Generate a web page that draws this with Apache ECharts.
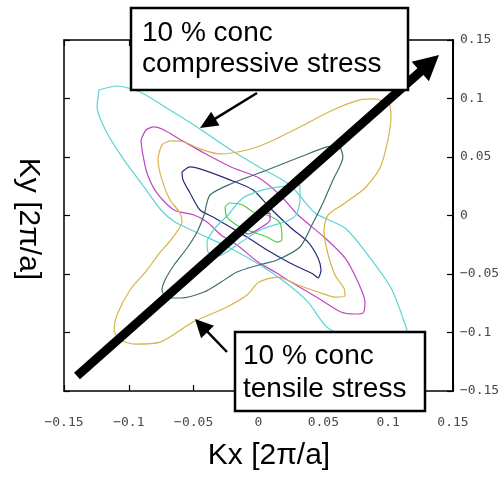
<!DOCTYPE html>
<html>
<head>
<meta charset="utf-8">
<script src="https://cdn.jsdelivr.net/npm/echarts@6/dist/echarts.min.js"></script>
<style>
  html, body { margin: 0; padding: 0; background: #fff; }
  #chart { width: 503px; height: 478px; }
</style>
</head>
<body>
<div id="chart"></div>
<script>
// constant-energy contours, [Kx, Ky] in units of 2pi/a
const cyanOuter = [
  [-0.123, 0.1073], [-0.1091, 0.1107], [-0.0914, 0.1056], [-0.0721, 0.0928], [-0.0474, 0.0757],
  [-0.0212, 0.056], [0.0004, 0.0415], [0.0243, 0.0261], [0.0436, 0.0021], [0.0667, -0.0107],
  [0.0844, -0.0338], [0.1022, -0.062], [0.1114, -0.0876], [0.1153, -0.1022], [0.1052, -0.1082],
  [0.0783, -0.1064], [0.0536, -0.0962], [0.0382, -0.074], [0.0204, -0.0569], [0.0012, -0.0423],
  [-0.022, -0.0278], [-0.0451, -0.0158], [-0.0644, -0.0056], [-0.0752, 0.0047], [-0.0883, 0.0244],
  [-0.1037, 0.0475], [-0.1168, 0.0705], [-0.1245, 0.0928]
];
const magentaOuter = [
  [-0.0906, 0.0646], [-0.0867, 0.0731], [-0.0806, 0.0757], [-0.0729, 0.0731], [-0.0598, 0.0646],
  [-0.042, 0.0534], [-0.0212, 0.0415], [0.0004, 0.0321], [0.0166, 0.0175], [0.0305, 0.0004],
  [0.0513, -0.0192], [0.0667, -0.0363], [0.0767, -0.0569], [0.0821, -0.074], [0.0806, -0.0834],
  [0.0744, -0.0842], [0.0636, -0.0825], [0.0459, -0.0705], [0.0251, -0.0569], [0.0127, -0.0483],
  [-0.0004, -0.0398], [-0.0166, -0.0252], [-0.0289, -0.0167], [-0.0397, -0.0056], [-0.0497, 0.0004],
  [-0.0651, 0.0047], [-0.0783, 0.0192], [-0.086, 0.0363], [-0.0898, 0.056]
];
const orangeStar = [
  [0.1014, 0.0945], [0.0898, 0.0996], [0.0783, 0.0988], [0.0574, 0.0902], [0.032, 0.0757],
  [0.0066, 0.062], [-0.0089, 0.056], [-0.0297, 0.0526], [-0.0451, 0.0569], [-0.0574, 0.0628],
  [-0.0675, 0.0637], [-0.0744, 0.0603], [-0.0775, 0.0475], [-0.0744, 0.0304], [-0.0682, 0.0133],
  [-0.0605, 0.0021], [-0.059, -0.0056], [-0.0659, -0.0184], [-0.0775, -0.0338], [-0.086, -0.0466],
  [-0.0991, -0.0637], [-0.1091, -0.0851], [-0.1114, -0.0979], [-0.1068, -0.1064], [-0.0952, -0.1099],
  [-0.0759, -0.1082], [-0.0505, -0.0911], [-0.0243, -0.0782], [-0.0089, -0.068], [0.0004, -0.0569],
  [0.015, -0.0526], [0.0305, -0.0594], [0.0459, -0.0654], [0.059, -0.0697], [0.0667, -0.0688],
  [0.0659, -0.062], [0.059, -0.0509], [0.0528, -0.0295], [0.0505, -0.0124], [0.0536, 0.0004],
  [0.0667, 0.0107], [0.0821, 0.0235], [0.0937, 0.0406], [0.0998, 0.0646], [0.1022, 0.0859]
];
const navyLoop = [
  [-0.059, 0.0372], [-0.0528, 0.0415], [-0.0451, 0.0398], [-0.022, 0.0304], [-0.0042, 0.0218],
  [0.0089, 0.0064], [0.0251, -0.0107], [0.0382, -0.0227], [0.0459, -0.0363], [0.0482, -0.0466],
  [0.0459, -0.0534], [0.042, -0.05], [0.0243, -0.0406], [0.0066, -0.0295], [-0.0089, -0.0184],
  [-0.022, -0.0098], [-0.0351, -0.0013], [-0.0451, 0.0047], [-0.0528, 0.0192], [-0.0582, 0.0304]
];
const tealLoop = [
  [0.0628, 0.0594], [0.0651, 0.05], [0.0574, 0.0304], [0.0497, 0.0107], [0.0412, -0.0081],
  [0.032, -0.0269], [0.0143, -0.038], [0.0004, -0.0423], [-0.0166, -0.0483], [-0.0289, -0.0569],
  [-0.042, -0.0654], [-0.0598, -0.0705], [-0.0705, -0.0705], [-0.0744, -0.0637], [-0.0721, -0.0551],
  [-0.0651, -0.0423], [-0.0551, -0.0278], [-0.0474, -0.0141], [-0.042, 0.0004], [-0.0374, 0.0175],
  [-0.0197, 0.0278], [0.0066, 0.0389], [0.032, 0.05], [0.0528, 0.0586]
];
const cyanInner = [
  [0.032, 0.0261], [0.032, 0.0133], [0.0289, 0.0004], [0.022, -0.0047], [0.0012, -0.0124],
  [-0.0166, -0.0252], [-0.0312, -0.0346], [-0.0389, -0.0312], [-0.0397, -0.0227], [-0.0335, -0.0107],
  [-0.0235, 0.0004], [-0.012, 0.015], [0.0066, 0.0227]
];
const greenLoop = [
  [-0.0258, 0.0073], [-0.022, 0.0107], [-0.012, 0.009], [-0.0042, 0.003], [0.0066, 0.0004],
  [0.0166, -0.0064], [0.0181, -0.0209], [0.0143, -0.0227], [0.0066, -0.0184], [-0.0042, -0.0141],
  [-0.0143, -0.0098], [-0.0243, -0.0013]
];
const magentaInner = [
  [-0.0127, -0.0124], [-0.0066, -0.0056], [0.0027, 0.0013], [0.0089, 0.0021], [0.0089, -0.0038],
  [0.0012, -0.0107], [-0.0081, -0.0158]
];

const tickLabels = ['\u22120.15', '\u22120.1', '\u22120.05', '0', '0.05', '0.1', '0.15'];

function closeLoop(pts) {
  return pts.concat([pts[0]]);
}

// arrow: shaft line + triangle head, tail -> tip
function arrow(tail, tip, width, headLen, headHalf) {
  const dx = tip[0] - tail[0], dy = tip[1] - tail[1];
  const len = Math.sqrt(dx * dx + dy * dy);
  const ux = dx / len, uy = dy / len;
  const bx = tip[0] - ux * headLen, by = tip[1] - uy * headLen;
  return [
    {
      type: 'line', z: 100,
      shape: { x1: tail[0], y1: tail[1], x2: bx + ux * 2, y2: by + uy * 2 },
      style: { stroke: '#000', lineWidth: width }
    },
    {
      type: 'polygon', z: 100,
      shape: { points: [tip, [bx - uy * headHalf, by + ux * headHalf], [bx + uy * headHalf, by - ux * headHalf]] },
      style: { fill: '#000' }
    }
  ];
}

function label(text, x, y, size) {
  return {
    type: 'text', z: 101,
    style: {
      text: text, x: x, y: y,
      font: size + 'px "Liberation Sans", Arial, sans-serif',
      fill: '#000', textAlign: 'left', textVerticalAlign: 'middle',
      align: 'left', verticalAlign: 'middle'
    }
  };
}

const chart = echarts.init(document.getElementById('chart'), null, { renderer: 'canvas' });

const axisCommon = {
  type: 'value',
  min: -0.15,
  max: 0.15,
  interval: 0.05,
  splitLine: { show: false },
  axisLine: { show: true, onZero: false, lineStyle: { color: '#000', width: 1.5 } },
  axisTick: { show: true, inside: true, length: 6, lineStyle: { color: '#000', width: 1.2 } }
};

const labelStyle = {
  fontFamily: '"DejaVu Sans Mono", monospace',
  fontSize: 13,
  color: '#4a4a4a',
  formatter: function (v) { return tickLabels[Math.round((v + 0.15) / 0.05)]; }
};

function contour(name, pts, color) {
  return {
    name: name,
    type: 'line',
    data: closeLoop(pts),
    showSymbol: false,
    smooth: 0.25,
    animation: false,
    lineStyle: { color: color, width: 1.2 }
  };
}

const option = {
  animation: false,
  backgroundColor: '#fff',
  grid: { left: 64, right: 50, top: 40, bottom: 87 },
  xAxis: [
    Object.assign({}, axisCommon, {
      position: 'bottom',
      axisLabel: Object.assign({ margin: 25 }, labelStyle)
    }),
    Object.assign({}, axisCommon, {
      position: 'top',
      axisLabel: { show: false }
    })
  ],
  yAxis: [
    Object.assign({}, axisCommon, {
      position: 'right',
      axisLine: { show: true, onZero: false, lineStyle: { color: '#000', width: 2 } },
      axisLabel: Object.assign({ margin: 7 }, labelStyle)
    }),
    Object.assign({}, axisCommon, {
      position: 'left',
      axisLabel: { show: false }
    })
  ],
  series: [
    contour('cyan outer', cyanOuter, '#5cd3d6'),
    contour('magenta outer', magentaOuter, '#c046c4'),
    contour('orange', orangeStar, '#d9b24a'),
    contour('navy', navyLoop, '#2a2a7a'),
    contour('teal', tealLoop, '#3f6e6c'),
    contour('cyan inner', cyanInner, '#5cd3d6'),
    contour('green', greenLoop, '#4ccf4c'),
    contour('magenta inner', magentaInner, '#b23cb8')
  ],
  graphic: [].concat(
    arrow([77, 376], [439, 55], 9, 25, 13),
    [
      {
        type: 'rect', z: 100,
        shape: { x: 131, y: 8, width: 277, height: 82 },
        style: { fill: '#fff', stroke: '#000', lineWidth: 2.5 }
      },
      label('10 % conc', 142, 33, 28),
      label('compressive stress', 142, 64, 28),
      {
        type: 'rect', z: 100,
        shape: { x: 235, y: 332, width: 190, height: 79 },
        style: { fill: '#fff', stroke: '#000', lineWidth: 2.5 }
      },
      label('10 % conc', 243, 356, 28),
      label('tensile stress', 243, 389, 28)
    ],
    arrow([257, 93], [200, 128], 2.5, 18, 8),
    arrow([227, 352], [195, 319], 2.5, 18, 9),
    [
      {
        type: 'text', z: 101,
        x: 269, y: 456,
        style: {
          text: 'Kx [2\u03c0/a]', x: 0, y: 0,
          font: '30px "Liberation Sans", Arial, sans-serif', fill: '#000',
          textAlign: 'center', textVerticalAlign: 'middle', align: 'center', verticalAlign: 'middle'
        }
      },
      {
        type: 'text', z: 101,
        x: 28, y: 219, rotation: -Math.PI / 2,
        style: {
          text: 'Ky [2\u03c0/a]', x: 0, y: 0,
          font: '30px "Liberation Sans", Arial, sans-serif', fill: '#000',
          textAlign: 'center', textVerticalAlign: 'middle', align: 'center', verticalAlign: 'middle'
        }
      }
    ]
  )
};

chart.setOption(option);
</script>
</body>
</html>
